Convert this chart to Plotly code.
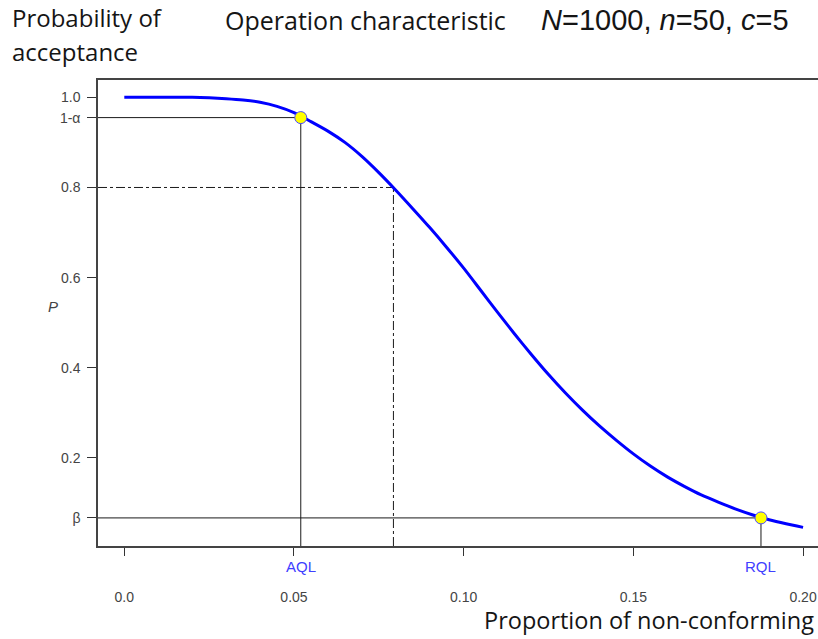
import plotly.graph_objects as go

# Proportion of non-conforming items (x) and probability of acceptance (y)
p_values = [0.0, 0.01, 0.02, 0.025, 0.03, 0.035, 0.04, 0.045, 0.05, 0.055, 0.06, 0.065,
            0.07, 0.075, 0.08, 0.085, 0.09, 0.095, 0.10, 0.105, 0.11, 0.115, 0.12, 0.125,
            0.13, 0.135, 0.14, 0.145, 0.15, 0.155, 0.16, 0.165, 0.17, 0.175, 0.18, 0.185,
            0.19, 0.195, 0.20]
prob_accept = [1.0, 1.0, 1.0, 0.999, 0.997, 0.994, 0.989, 0.980, 0.966, 0.946, 0.925, 0.900,
               0.869, 0.833, 0.794, 0.753, 0.711, 0.667, 0.621, 0.572, 0.523, 0.475, 0.429,
               0.385, 0.344, 0.306, 0.271, 0.239, 0.209, 0.182, 0.158, 0.137, 0.118, 0.102,
               0.087, 0.074, 0.063, 0.054, 0.046]

AQL = 0.052
ONE_MINUS_ALPHA = 0.955
P80_X = 0.0793
P80 = 0.80
RQL = 0.1876
BETA = 0.067

x_ticks = [0.0, 0.05, 0.10, 0.15, 0.20]
x_tick_text = ["0.0", "0.05", "0.10", "0.15", "0.20"]
y_ticks = [1.0, ONE_MINUS_ALPHA, 0.8, 0.6, 0.4, 0.2, BETA]
y_tick_text = ["1.0", "1-α", "0.8", "0.6", "0.4", "0.2", "β"]

X_RANGE = [-0.00775, 0.2044]
Y_RANGE = [0.0047, 1.0384]

W, H = 818, 639
ML, MT, MB, MR = 98, 80, 93, 0
PW, PH = W - ML - MR, H - MT - MB


def px_x(x):
    return (x - ML) / PW


def px_y(y):
    return (H - MB - y) / PH


fig = go.Figure()

fig.add_trace(go.Scatter(x=p_values, y=prob_accept, mode="lines",
                         line=dict(color="#0000ff", width=3, shape="spline", smoothing=0.6),
                         hoverinfo="skip", showlegend=False))
fig.add_trace(go.Scatter(x=[AQL, RQL], y=[ONE_MINUS_ALPHA, BETA], mode="markers",
                         marker=dict(color="#ffff00", size=12,
                                     line=dict(color="#4a4aff", width=1)),
                         showlegend=False, hoverinfo="skip"))

ref = dict(color="#1a1a1a", width=1)
dref = dict(color="#1a1a1a", width=1, dash="dashdot")
shapes = [
    dict(type="line", xref="x", yref="y", x0=X_RANGE[0], x1=AQL, y0=ONE_MINUS_ALPHA,
         y1=ONE_MINUS_ALPHA, line=ref, layer="below"),
    dict(type="line", xref="x", yref="y", x0=AQL, x1=AQL, y0=Y_RANGE[0], y1=ONE_MINUS_ALPHA,
         line=ref, layer="below"),
    dict(type="line", xref="x", yref="y", x0=X_RANGE[0], x1=P80_X, y0=P80, y1=P80,
         line=dref, layer="below"),
    dict(type="line", xref="x", yref="y", x0=P80_X, x1=P80_X, y0=Y_RANGE[0], y1=P80,
         line=dref, layer="below"),
    dict(type="line", xref="x", yref="y", x0=X_RANGE[0], x1=RQL, y0=BETA, y1=BETA,
         line=ref, layer="below"),
    dict(type="line", xref="x", yref="y", x0=RQL, x1=RQL, y0=Y_RANGE[0] - 0.006, y1=BETA,
         line=ref, layer="below"),
]

calibri = "'Open Sans', Lato, sans-serif"
arial = "'Liberation Sans', Arial, sans-serif"
txt = "#151515"

annotations = [
    dict(text="Probability of", x=px_x(10), y=px_y(18), xref="paper", yref="paper",
         xanchor="left", yanchor="middle", showarrow=False,
         font=dict(family=calibri, size=24, color=txt)),
    dict(text="acceptance", x=px_x(10), y=px_y(52), xref="paper", yref="paper",
         xanchor="left", yanchor="middle", showarrow=False,
         font=dict(family=calibri, size=24, color=txt)),
    dict(text="Operation characteristic", x=px_x(223), y=px_y(20), xref="paper", yref="paper",
         xanchor="left", yanchor="middle", showarrow=False,
         font=dict(family=calibri, size=25, color=txt)),
    dict(text="<i>N</i>=1000, <i>n</i>=50, <i>c</i>=5", x=px_x(539), y=px_y(20),
         xref="paper", yref="paper", xanchor="left", yanchor="middle", showarrow=False,
         font=dict(family=arial, size=29, color=txt)),
    dict(text="Proportion of non-conforming", x=px_x(816), y=px_y(620), xref="paper",
         yref="paper", xanchor="right", yanchor="middle", showarrow=False,
         font=dict(family=calibri, size=23.5, color=txt)),
    dict(text="<i>P</i>", x=px_x(53), y=px_y(306), xref="paper", yref="paper",
         xanchor="center", yanchor="middle", showarrow=False,
         font=dict(family=arial, size=15, color="#444444")),
    dict(text="AQL", x=AQL, y=px_y(566), xref="x", yref="paper", xanchor="center",
         yanchor="middle", showarrow=False,
         font=dict(family=arial, size=15, color="#4040ff")),
    dict(text="RQL", x=RQL, y=px_y(566), xref="x", yref="paper", xanchor="center",
         yanchor="middle", showarrow=False,
         font=dict(family=arial, size=15, color="#4040ff")),
]

fig.update_layout(
    width=W, height=H,
    margin=dict(l=ML, r=MR, t=MT, b=MB, pad=0),
    plot_bgcolor="white", paper_bgcolor="white",
    shapes=shapes, annotations=annotations, showlegend=False,
    xaxis=dict(range=X_RANGE, tickvals=x_ticks, ticktext=x_tick_text, ticks="outside",
               ticklen=8, tickwidth=1, tickcolor="#333333", showgrid=False, zeroline=False,
               showline=True, linecolor="#444444", linewidth=1.5, mirror=True,
               ticklabelstandoff=29,
               tickfont=dict(family=arial, size=14, color="#444444")),
    yaxis=dict(range=Y_RANGE, tickvals=y_ticks, ticktext=y_tick_text, ticks="outside",
               ticklen=9, tickwidth=1, tickcolor="#333333", showgrid=False, zeroline=False,
               showline=True, linecolor="#444444", linewidth=1.5, mirror=False,
               ticklabelstandoff=4,
               tickfont=dict(family=arial, size=14, color="#444444")),
)

fig.write_html("out.html")
